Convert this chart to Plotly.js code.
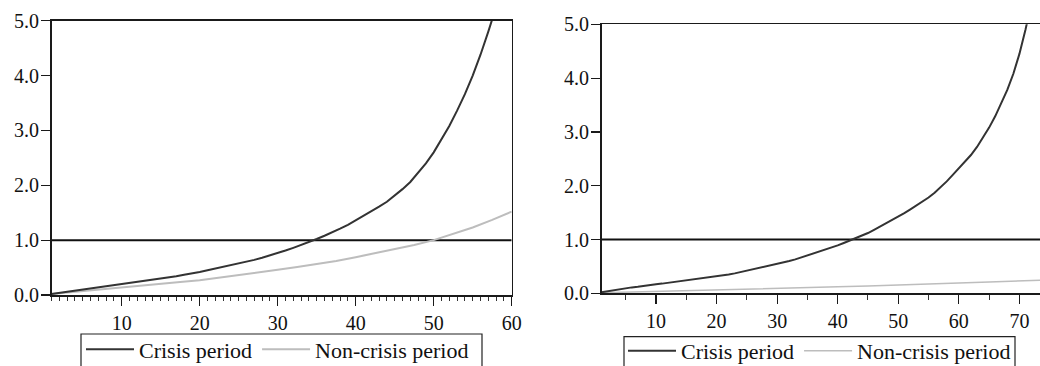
<!DOCTYPE html>
<html>
<head>
<meta charset="utf-8">
<script src="https://cdn.plot.ly/plotly-3.0.1.min.js"></script>
<style>html,body{margin:0;padding:0;background:#fff;}#chart{width:1040px;height:366px;}</style>
</head>
<body>
<div id="chart"></div>
<script>
// ---- data ----
var seriesNames = ["Crisis period", "Non-crisis period"];

// Left panel (horizon 1..60)
var leftCrisisX = [1,2,3,4,5,6,7,8,9,10,11,12,13,14,15,16,17,18,19,20,21,22,23,24,25,26,27,28,29,30,31,32,33,34,35,36,37,38,39,40,41,42,43,44,45,46,47,48,49,50,51,52,53,54,55,56,57,58];
var leftCrisisY = [0.02,0.04,0.06,0.08,0.10,0.12,0.13,0.15,0.17,0.19,0.21,0.23,0.25,0.27,0.29,0.32,0.34,0.37,0.39,0.42,0.45,0.48,0.51,0.54,0.57,0.61,0.64,0.68,0.72,0.77,0.81,0.86,0.91,0.97,1.02,1.08,1.14,1.21,1.28,1.36,1.44,1.52,1.61,1.70,1.81,1.93,2.06,2.22,2.40,2.60,2.83,3.08,3.36,3.66,4.00,4.38,4.80,5.25];
var leftNonX = [1,3,5,7.5,10,12.5,15,17.5,20,22.5,25,27.5,30,32.5,35,37.5,40,42.5,45,47.5,50,52.5,55,57.5,60];
var leftNonY = [0.02,0.045,0.07,0.10,0.13,0.165,0.20,0.235,0.27,0.315,0.36,0.41,0.46,0.51,0.56,0.62,0.69,0.76,0.83,0.91,1.00,1.11,1.23,1.37,1.52];

// Right panel (horizon 1..75)
var rightCrisisX = [1,2,3,4,5,6,7,8,9,10,11,12,13,14,15,16,17,18,19,20,21,22,23,24,25,26,27,28,29,30,31,32,33,34,35,36,37,38,39,40,41,42,43,44,45,46,47,48,49,50,51,52,53,54,55,56,57,58,59,60,61,62,63,64,65,66,67,68,69,70,71,72];
var rightCrisisY = [0.02,0.04,0.06,0.08,0.095,0.11,0.12,0.14,0.155,0.17,0.18,0.195,0.21,0.225,0.24,0.255,0.265,0.28,0.295,0.31,0.33,0.35,0.37,0.395,0.42,0.44,0.465,0.49,0.515,0.54,0.57,0.60,0.63,0.665,0.70,0.735,0.77,0.81,0.85,0.89,0.935,0.98,1.02,1.07,1.12,1.18,1.24,1.30,1.36,1.42,1.49,1.56,1.63,1.70,1.78,1.87,1.97,2.08,2.20,2.32,2.44,2.57,2.72,2.89,3.08,3.29,3.52,3.78,4.08,4.45,4.90,5.40];
var rightNonX = [1,5,10,15,20,25,30,35,40,45,50,55,60,65,70,75];
var rightNonY = [0.01,0.02,0.035,0.05,0.065,0.075,0.09,0.105,0.12,0.135,0.15,0.17,0.19,0.21,0.23,0.25];

// Reference line at 1.0
var thresholdY = [1, 1];
var leftThresholdX = [1, 60];
var rightThresholdX = [1, 75];

var leftRange = [1, 60];
var rightRange = [1, 73.4];
var yRange = [0, 5];

// ---- styling ----
var W = 1040, H = 366;
var FONT = "Liberation Serif";
var dark = "#333333", light = "#bdbdbd", axisCol = "#1a1a1a";

var traces = [
  {x: leftThresholdX, y: thresholdY, xaxis: 'x', yaxis: 'y', mode: 'lines',
   line: {color: '#111', width: 2}, showlegend: false, hoverinfo: 'skip'},
  {x: leftNonX, y: leftNonY, xaxis: 'x', yaxis: 'y', mode: 'lines', name: seriesNames[1],
   line: {color: light, width: 2}, legend: 'legend', legendrank: 2},
  {x: leftCrisisX, y: leftCrisisY, xaxis: 'x', yaxis: 'y', mode: 'lines', name: seriesNames[0],
   line: {color: dark, width: 2}, legend: 'legend', legendrank: 1},

  {x: rightThresholdX, y: thresholdY, xaxis: 'x2', yaxis: 'y2', mode: 'lines',
   line: {color: '#111', width: 2}, showlegend: false, hoverinfo: 'skip'},
  {x: rightNonX, y: rightNonY, xaxis: 'x2', yaxis: 'y2', mode: 'lines', name: seriesNames[1],
   line: {color: light, width: 1.5}, legend: 'legend2', legendrank: 2},
  {x: rightCrisisX, y: rightCrisisY, xaxis: 'x2', yaxis: 'y2', mode: 'lines', name: seriesNames[0],
   line: {color: dark, width: 2}, legend: 'legend2', legendrank: 1}
];

function px(v){ return v / W; }
function py(v){ return (H - v) / H; }

var tickFont = {family: FONT, size: 20, color: '#111'};

function xAxis(range, domain, minorDtick, minorLen, anchor) {
  return {
    domain: domain, range: range, anchor: anchor,
    showgrid: false, zeroline: false,
    showline: true, linecolor: axisCol, linewidth: 1.5, mirror: true,
    ticks: 'outside', ticklen: 9, tickwidth: 1.2, tickcolor: axisCol,
    tick0: 0, dtick: 10, tickfont: tickFont,
    ticklabelstandoff: 0,
    minor: {dtick: minorDtick, tick0: 0, ticks: 'outside', ticklen: minorLen, tickwidth: 1, tickcolor: '#333', showgrid: false},
    fixedrange: true
  };
}
function yAxis(domain, anchor, mirror) {
  return {
    domain: domain, range: yRange, anchor: anchor,
    showgrid: false, zeroline: false,
    showline: true, linecolor: axisCol, linewidth: 1.5, mirror: mirror,
    ticks: 'outside', ticklen: 9, tickwidth: 1.2, tickcolor: axisCol,
    tick0: 0, dtick: 1, tickformat: '.1f', tickfont: tickFont,
    ticklabelstandoff: -2,
    fixedrange: true
  };
}

var legendFont = {family: FONT, size: 22, color: '#111'};

// legend frames (they run past the bottom edge, as in the reference)
var frameShapes = [
  {type: 'rect', xref: 'paper', yref: 'paper', x0: px(81), x1: px(482), y0: py(420), y1: py(334),
   line: {color: '#222', width: 1.2}, fillcolor: 'rgba(0,0,0,0)'},
  {type: 'rect', xref: 'paper', yref: 'paper', x0: px(624), x1: px(1015), y0: py(420), y1: py(336.7),
   line: {color: '#222', width: 1.2}, fillcolor: 'rgba(0,0,0,0)'}
];

var layout = {
  width: W, height: H,
  margin: {l: 0, r: 0, t: 0, b: 0, autoexpand: false},
  paper_bgcolor: '#fff', plot_bgcolor: '#fff',
  font: {family: FONT, color: '#111'},
  xaxis: xAxis(leftRange, [px(51.5), px(511.7)], 1, 4, 'y'),
  yaxis: yAxis([py(295), py(20.7)], 'x', true),
  xaxis2: xAxis(rightRange, [px(601.5), 1], 5, 5, 'y2'),
  yaxis2: yAxis([py(293.3), py(24.3)], 'x2', false),
  shapes: frameShapes,
  legend: {
    orientation: 'h', x: px(81), y: py(328.5), xanchor: 'left', yanchor: 'top',
    borderwidth: 0, bgcolor: 'rgba(0,0,0,0)', font: legendFont,
    traceorder: 'normal', itemwidth: 48
  },
  legend2: {
    orientation: 'h', x: px(623), y: py(330), xanchor: 'left', yanchor: 'top',
    borderwidth: 0, bgcolor: 'rgba(0,0,0,0)', font: legendFont,
    traceorder: 'normal', itemwidth: 48
  },
  showlegend: true
};

Plotly.newPlot('chart', traces, layout, {displayModeBar: false, staticPlot: true});
</script>
</body>
</html>
